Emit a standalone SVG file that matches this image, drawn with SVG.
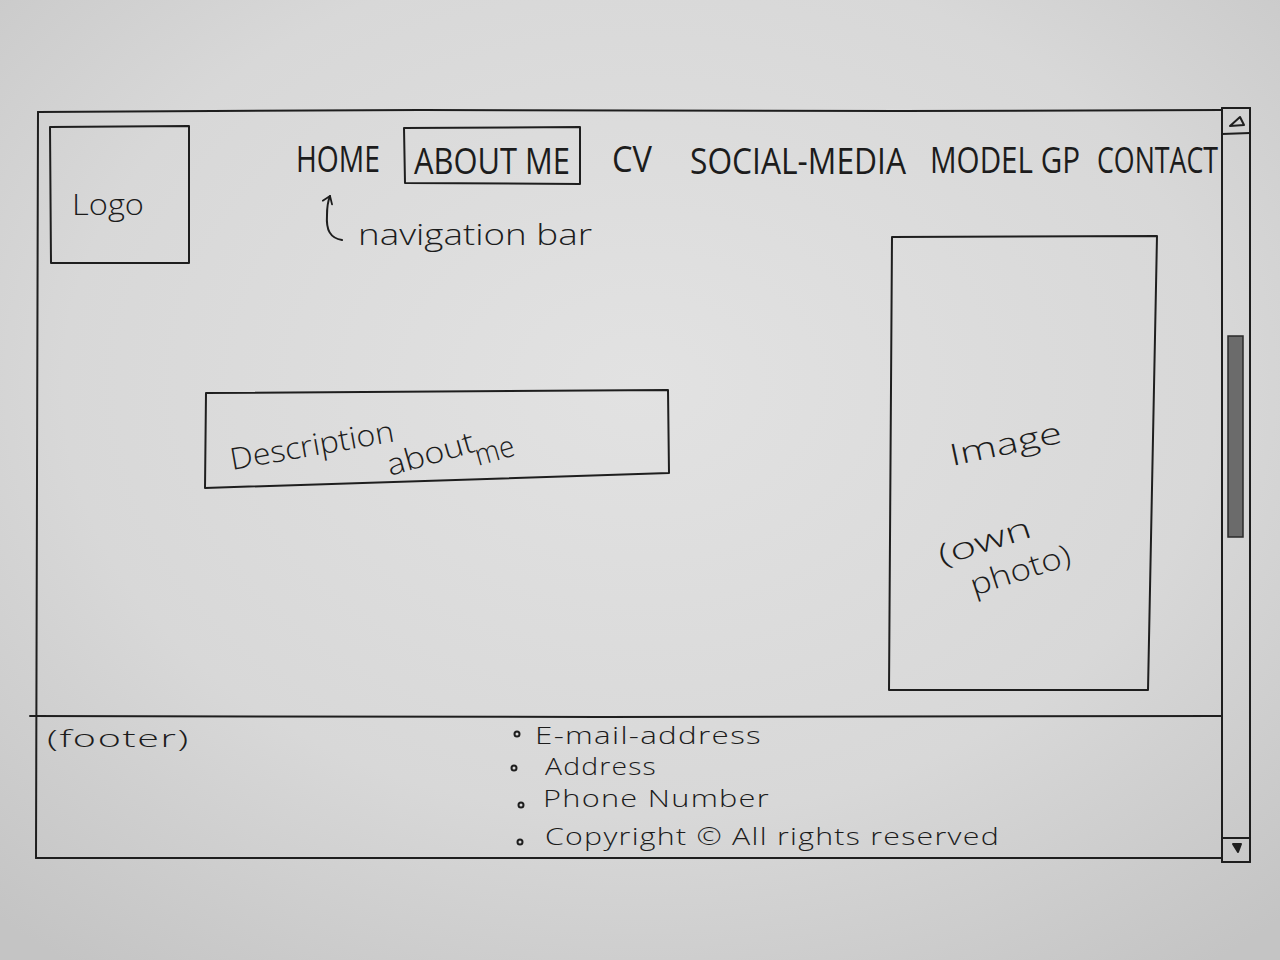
<svg xmlns="http://www.w3.org/2000/svg" width="1280" height="960" viewBox="0 0 1280 960">
  <defs>
    <radialGradient id="paper" cx="0.5" cy="0.4" r="0.75">
      <stop offset="0" stop-color="#e2e2e2"/>
      <stop offset="0.6" stop-color="#d8d8d8"/>
      <stop offset="1" stop-color="#c4c4c4"/>
    </radialGradient>
    <marker id="head" viewBox="0 0 12 12" refX="10" refY="6" markerWidth="12" markerHeight="12" markerUnits="userSpaceOnUse" orient="auto">
      <path d="M3,1 L10,6 L3,11" fill="none" stroke="#1c1c1c" stroke-width="1.8" stroke-linecap="round" stroke-linejoin="round"/>
    </marker>
    <style>
      .ink { fill: none; stroke: #1e1e1e; stroke-width: 2; stroke-linecap: round; stroke-linejoin: round; }
      .t { font-family: "Open Sans", "Liberation Sans", sans-serif; fill: #1c1c1c; font-weight: 300; }
      .nav { font-size: 36px; font-weight: 400; }
      .note { font-size: 30px; }
      .foot { font-size: 24px; letter-spacing: 1px; }
    </style>
  </defs>

  <!-- sheet of paper -->
  <rect width="1280" height="960" fill="url(#paper)"/>

  <!-- browser window frame -->
  <g id="frame">
    <path class="ink" d="M38,112 L420,110 L900,111 L1222,110"/>
    <path class="ink" d="M38,112 L37,480 L36,858"/>
    <path class="ink" d="M36,858 L600,858 L1222,858"/>
    <path class="ink" d="M30,716 L600,717 L1222,716"/>
  </g>

  <!-- vertical scrollbar -->
  <g id="scrollbar">
    <path class="ink" d="M1222,108 L1222,862"/>
    <path class="ink" d="M1250,108 L1250,862"/>
    <path class="ink" d="M1222,108 L1250,108"/>
    <path class="ink" d="M1222,134 L1250,133"/>
    <path class="ink" d="M1222,838 L1250,838"/>
    <path class="ink" d="M1222,862 L1250,862"/>
    <path class="ink" d="M1230,126 L1240,117 L1244,125 Z"/>
    <path d="M1233,844 L1241,844 L1238,852 Z" fill="#1e1e1e" stroke="#1e1e1e" stroke-width="2" stroke-linejoin="round"/>
    <rect x="1228" y="336" width="15" height="201" fill="#6b6b6b" stroke="#2a2a2a" stroke-width="1.5"/>
  </g>

  <!-- logo -->
  <g id="logo">
    <path class="ink" d="M50,127 L189,126 L189,263 L51,263 Z"/>
    <text class="t note" x="72" y="215" textLength="72" lengthAdjust="spacingAndGlyphs">Logo</text>
  </g>

  <!-- navigation items -->
  <g id="nav-home">
    <text class="t nav" x="296" y="172" textLength="84" lengthAdjust="spacingAndGlyphs">HOME</text>
  </g>
  <g id="nav-about">
    <path class="ink" d="M404,128 L580,127 L580,184 L405,183 Z"/>
    <text class="t nav" x="414" y="174" textLength="156" lengthAdjust="spacingAndGlyphs">ABOUT ME</text>
  </g>
  <g id="nav-cv">
    <text class="t nav" x="612" y="172" textLength="40" lengthAdjust="spacingAndGlyphs">CV</text>
  </g>
  <g id="nav-social">
    <text class="t nav" x="690" y="174" textLength="216" lengthAdjust="spacingAndGlyphs">SOCIAL-MEDIA</text>
  </g>
  <g id="nav-model">
    <text class="t nav" x="930" y="173" textLength="150" lengthAdjust="spacingAndGlyphs">MODEL GP</text>
  </g>
  <g id="nav-contact">
    <text class="t nav" x="1097" y="173" textLength="121" lengthAdjust="spacingAndGlyphs">CONTACT</text>
  </g>

  <!-- annotation -->
  <g id="nav-label">
    <text class="t note" x="358" y="245" textLength="234" lengthAdjust="spacingAndGlyphs">navigation bar</text>
  </g>

  <!-- description block -->
  <g id="description">
    <path class="ink" d="M206,393 L668,390 L669,473 L205,488 Z"/>
    <text class="t note" transform="rotate(-10 232 470)" x="232" y="470" textLength="166" lengthAdjust="spacingAndGlyphs">Description</text>
    <text class="t note" transform="rotate(-16 390 476)" x="390" y="476" textLength="90" lengthAdjust="spacingAndGlyphs">about</text>
    <text class="t note" transform="rotate(-16 478 466)" x="478" y="466" textLength="40" lengthAdjust="spacingAndGlyphs">me</text>
  </g>

  <!-- image placeholder -->
  <g id="image">
    <path class="ink" d="M892,237 L1157,236 L1148,690 L889,690 Z"/>
    <text class="t note" transform="rotate(-12 952 466)" x="952" y="466" textLength="114" lengthAdjust="spacingAndGlyphs">Image</text>
    <text class="t note" transform="rotate(-18 942 566)" x="942" y="566" textLength="96" lengthAdjust="spacingAndGlyphs">(own</text>
    <text class="t note" transform="rotate(-18 974 596)" x="974" y="596" textLength="104" lengthAdjust="spacingAndGlyphs">photo)</text>
  </g>

  <!-- footer -->
  <g id="footer">
    <text class="t foot" x="47" y="747" textLength="143" lengthAdjust="spacingAndGlyphs">(footer)</text>
    <circle class="ink" cx="517" cy="734" r="2.5" stroke-width="1.5"/>
    <circle class="ink" cx="514" cy="768" r="2.5" stroke-width="1.5"/>
    <circle class="ink" cx="521" cy="805" r="2.5" stroke-width="1.5"/>
    <circle class="ink" cx="520" cy="842" r="2.5" stroke-width="1.5"/>
    <text class="t foot" x="535" y="744" textLength="227" lengthAdjust="spacingAndGlyphs">E-mail-address</text>
    <text class="t foot" x="545" y="775" textLength="112" lengthAdjust="spacingAndGlyphs">Address</text>
    <text class="t foot" x="543" y="807" textLength="227" lengthAdjust="spacingAndGlyphs">Phone Number</text>
    <text class="t foot" x="545" y="845" textLength="455" lengthAdjust="spacingAndGlyphs">Copyright © All rights reserved</text>
  </g>

  <!-- connectors -->
  <g id="connectors">
    <path class="ink" d="M342,240 C330,238 326,230 327,215 C327,207 328,201 330,196" marker-end="url(#head)"/>
  </g>
</svg>
